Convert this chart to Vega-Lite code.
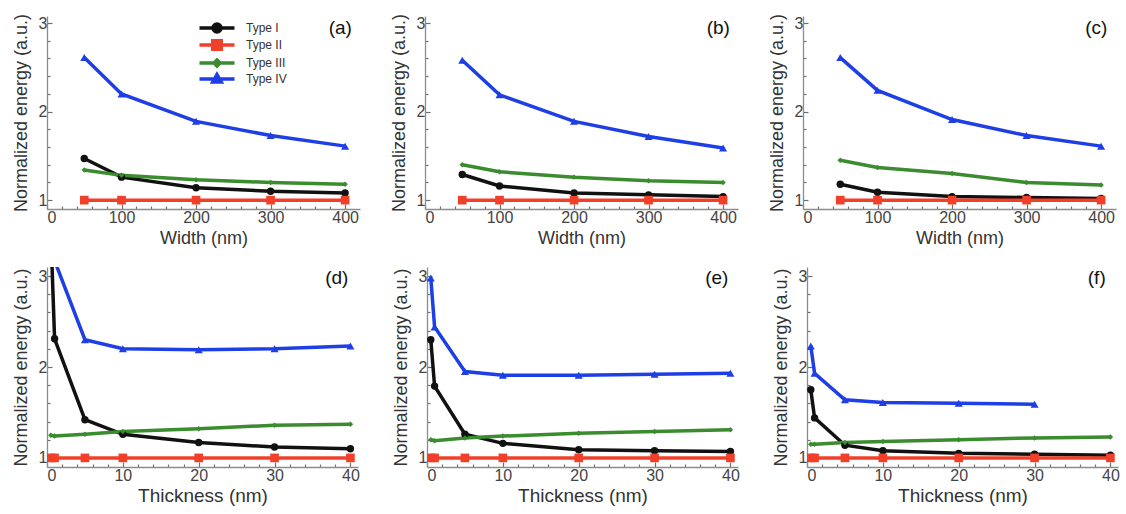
{
  "$schema": "https://vega.github.io/schema/vega-lite/v6.json",
  "background": "white",
  "padding": {"left": 12, "top": 13, "right": 2, "bottom": 2},
  "datasets": {
    "width": [
      {"p": "(a)", "t": "Type I", "x": 50, "y": 1.47}, {"p": "(a)", "t": "Type I", "x": 100, "y": 1.26}, {"p": "(a)", "t": "Type I", "x": 200, "y": 1.14}, {"p": "(a)", "t": "Type I", "x": 300, "y": 1.10}, {"p": "(a)", "t": "Type I", "x": 400, "y": 1.08},
      {"p": "(a)", "t": "Type II", "x": 50, "y": 1.0}, {"p": "(a)", "t": "Type II", "x": 100, "y": 1.0}, {"p": "(a)", "t": "Type II", "x": 200, "y": 1.0}, {"p": "(a)", "t": "Type II", "x": 300, "y": 1.0}, {"p": "(a)", "t": "Type II", "x": 400, "y": 1.0},
      {"p": "(a)", "t": "Type III", "x": 50, "y": 1.34}, {"p": "(a)", "t": "Type III", "x": 100, "y": 1.28}, {"p": "(a)", "t": "Type III", "x": 200, "y": 1.23}, {"p": "(a)", "t": "Type III", "x": 300, "y": 1.20}, {"p": "(a)", "t": "Type III", "x": 400, "y": 1.18},
      {"p": "(a)", "t": "Type IV", "x": 50, "y": 2.61}, {"p": "(a)", "t": "Type IV", "x": 100, "y": 2.20}, {"p": "(a)", "t": "Type IV", "x": 200, "y": 1.89}, {"p": "(a)", "t": "Type IV", "x": 300, "y": 1.73}, {"p": "(a)", "t": "Type IV", "x": 400, "y": 1.61},
      {"p": "(b)", "t": "Type I", "x": 50, "y": 1.29}, {"p": "(b)", "t": "Type I", "x": 100, "y": 1.16}, {"p": "(b)", "t": "Type I", "x": 200, "y": 1.08}, {"p": "(b)", "t": "Type I", "x": 300, "y": 1.06}, {"p": "(b)", "t": "Type I", "x": 400, "y": 1.04},
      {"p": "(b)", "t": "Type II", "x": 50, "y": 1.0}, {"p": "(b)", "t": "Type II", "x": 100, "y": 1.0}, {"p": "(b)", "t": "Type II", "x": 200, "y": 1.0}, {"p": "(b)", "t": "Type II", "x": 300, "y": 1.0}, {"p": "(b)", "t": "Type II", "x": 400, "y": 1.0},
      {"p": "(b)", "t": "Type III", "x": 50, "y": 1.40}, {"p": "(b)", "t": "Type III", "x": 100, "y": 1.32}, {"p": "(b)", "t": "Type III", "x": 200, "y": 1.26}, {"p": "(b)", "t": "Type III", "x": 300, "y": 1.22}, {"p": "(b)", "t": "Type III", "x": 400, "y": 1.20},
      {"p": "(b)", "t": "Type IV", "x": 50, "y": 2.58}, {"p": "(b)", "t": "Type IV", "x": 100, "y": 2.19}, {"p": "(b)", "t": "Type IV", "x": 200, "y": 1.89}, {"p": "(b)", "t": "Type IV", "x": 300, "y": 1.72}, {"p": "(b)", "t": "Type IV", "x": 400, "y": 1.59},
      {"p": "(c)", "t": "Type I", "x": 50, "y": 1.18}, {"p": "(c)", "t": "Type I", "x": 100, "y": 1.09}, {"p": "(c)", "t": "Type I", "x": 200, "y": 1.04}, {"p": "(c)", "t": "Type I", "x": 300, "y": 1.03}, {"p": "(c)", "t": "Type I", "x": 400, "y": 1.02},
      {"p": "(c)", "t": "Type II", "x": 50, "y": 1.0}, {"p": "(c)", "t": "Type II", "x": 100, "y": 1.0}, {"p": "(c)", "t": "Type II", "x": 200, "y": 1.0}, {"p": "(c)", "t": "Type II", "x": 300, "y": 1.0}, {"p": "(c)", "t": "Type II", "x": 400, "y": 1.0},
      {"p": "(c)", "t": "Type III", "x": 50, "y": 1.45}, {"p": "(c)", "t": "Type III", "x": 100, "y": 1.37}, {"p": "(c)", "t": "Type III", "x": 200, "y": 1.30}, {"p": "(c)", "t": "Type III", "x": 300, "y": 1.20}, {"p": "(c)", "t": "Type III", "x": 400, "y": 1.17},
      {"p": "(c)", "t": "Type IV", "x": 50, "y": 2.61}, {"p": "(c)", "t": "Type IV", "x": 100, "y": 2.24}, {"p": "(c)", "t": "Type IV", "x": 200, "y": 1.91}, {"p": "(c)", "t": "Type IV", "x": 300, "y": 1.73}, {"p": "(c)", "t": "Type IV", "x": 400, "y": 1.61}
    ],
    "thick": [
      {"p": "(d)", "t": "Type I", "x": 0.5, "y": 3.5}, {"p": "(d)", "t": "Type I", "x": 1, "y": 2.31}, {"p": "(d)", "t": "Type I", "x": 5, "y": 1.42}, {"p": "(d)", "t": "Type I", "x": 10, "y": 1.26}, {"p": "(d)", "t": "Type I", "x": 20, "y": 1.17}, {"p": "(d)", "t": "Type I", "x": 30, "y": 1.12}, {"p": "(d)", "t": "Type I", "x": 40, "y": 1.10},
      {"p": "(d)", "t": "Type II", "x": 0.5, "y": 1.0}, {"p": "(d)", "t": "Type II", "x": 1, "y": 1.0}, {"p": "(d)", "t": "Type II", "x": 5, "y": 1.0}, {"p": "(d)", "t": "Type II", "x": 10, "y": 1.0}, {"p": "(d)", "t": "Type II", "x": 20, "y": 1.0}, {"p": "(d)", "t": "Type II", "x": 30, "y": 1.0}, {"p": "(d)", "t": "Type II", "x": 40, "y": 1.0},
      {"p": "(d)", "t": "Type III", "x": 0.5, "y": 1.25}, {"p": "(d)", "t": "Type III", "x": 1, "y": 1.24}, {"p": "(d)", "t": "Type III", "x": 5, "y": 1.26}, {"p": "(d)", "t": "Type III", "x": 10, "y": 1.29}, {"p": "(d)", "t": "Type III", "x": 20, "y": 1.32}, {"p": "(d)", "t": "Type III", "x": 30, "y": 1.36}, {"p": "(d)", "t": "Type III", "x": 40, "y": 1.37},
      {"p": "(d)", "t": "Type IV", "x": 0.5, "y": 3.6}, {"p": "(d)", "t": "Type IV", "x": 1, "y": 3.17}, {"p": "(d)", "t": "Type IV", "x": 5, "y": 2.30}, {"p": "(d)", "t": "Type IV", "x": 10, "y": 2.20}, {"p": "(d)", "t": "Type IV", "x": 20, "y": 2.19}, {"p": "(d)", "t": "Type IV", "x": 30, "y": 2.20}, {"p": "(d)", "t": "Type IV", "x": 40, "y": 2.23},
      {"p": "(e)", "t": "Type I", "x": 0.5, "y": 2.30}, {"p": "(e)", "t": "Type I", "x": 1, "y": 1.79}, {"p": "(e)", "t": "Type I", "x": 5, "y": 1.26}, {"p": "(e)", "t": "Type I", "x": 10, "y": 1.16}, {"p": "(e)", "t": "Type I", "x": 20, "y": 1.09}, {"p": "(e)", "t": "Type I", "x": 30, "y": 1.08}, {"p": "(e)", "t": "Type I", "x": 40, "y": 1.07},
      {"p": "(e)", "t": "Type II", "x": 0.5, "y": 1.0}, {"p": "(e)", "t": "Type II", "x": 1, "y": 1.0}, {"p": "(e)", "t": "Type II", "x": 5, "y": 1.0}, {"p": "(e)", "t": "Type II", "x": 10, "y": 1.0}, {"p": "(e)", "t": "Type II", "x": 20, "y": 1.0}, {"p": "(e)", "t": "Type II", "x": 30, "y": 1.0}, {"p": "(e)", "t": "Type II", "x": 40, "y": 1.0},
      {"p": "(e)", "t": "Type III", "x": 0.5, "y": 1.20}, {"p": "(e)", "t": "Type III", "x": 1, "y": 1.19}, {"p": "(e)", "t": "Type III", "x": 5, "y": 1.22}, {"p": "(e)", "t": "Type III", "x": 10, "y": 1.24}, {"p": "(e)", "t": "Type III", "x": 20, "y": 1.27}, {"p": "(e)", "t": "Type III", "x": 30, "y": 1.29}, {"p": "(e)", "t": "Type III", "x": 40, "y": 1.31},
      {"p": "(e)", "t": "Type IV", "x": 0.5, "y": 2.98}, {"p": "(e)", "t": "Type IV", "x": 1, "y": 2.44}, {"p": "(e)", "t": "Type IV", "x": 5, "y": 1.95}, {"p": "(e)", "t": "Type IV", "x": 10, "y": 1.91}, {"p": "(e)", "t": "Type IV", "x": 20, "y": 1.91}, {"p": "(e)", "t": "Type IV", "x": 30, "y": 1.92}, {"p": "(e)", "t": "Type IV", "x": 40, "y": 1.93},
      {"p": "(f)", "t": "Type I", "x": 0.5, "y": 1.75}, {"p": "(f)", "t": "Type I", "x": 1, "y": 1.44}, {"p": "(f)", "t": "Type I", "x": 5, "y": 1.14}, {"p": "(f)", "t": "Type I", "x": 10, "y": 1.08}, {"p": "(f)", "t": "Type I", "x": 20, "y": 1.05}, {"p": "(f)", "t": "Type I", "x": 30, "y": 1.04}, {"p": "(f)", "t": "Type I", "x": 40, "y": 1.03},
      {"p": "(f)", "t": "Type II", "x": 0.5, "y": 1.0}, {"p": "(f)", "t": "Type II", "x": 1, "y": 1.0}, {"p": "(f)", "t": "Type II", "x": 5, "y": 1.0}, {"p": "(f)", "t": "Type II", "x": 10, "y": 1.0}, {"p": "(f)", "t": "Type II", "x": 20, "y": 1.0}, {"p": "(f)", "t": "Type II", "x": 30, "y": 1.0}, {"p": "(f)", "t": "Type II", "x": 40, "y": 1.0},
      {"p": "(f)", "t": "Type III", "x": 0.5, "y": 1.15}, {"p": "(f)", "t": "Type III", "x": 1, "y": 1.15}, {"p": "(f)", "t": "Type III", "x": 5, "y": 1.17}, {"p": "(f)", "t": "Type III", "x": 10, "y": 1.18}, {"p": "(f)", "t": "Type III", "x": 20, "y": 1.20}, {"p": "(f)", "t": "Type III", "x": 30, "y": 1.22}, {"p": "(f)", "t": "Type III", "x": 40, "y": 1.23},
      {"p": "(f)", "t": "Type IV", "x": 0.5, "y": 2.23}, {"p": "(f)", "t": "Type IV", "x": 1, "y": 1.93}, {"p": "(f)", "t": "Type IV", "x": 5, "y": 1.64}, {"p": "(f)", "t": "Type IV", "x": 10, "y": 1.61}, {"p": "(f)", "t": "Type IV", "x": 20, "y": 1.60}, {"p": "(f)", "t": "Type IV", "x": 30, "y": 1.59}
    ]
  },
  "spacing": 20,
  "vconcat": [
    {
      "data": {"name": "width"},
      "facet": {"field": "p", "type": "nominal", "header": {"labels": false, "title": null, "labelFontSize": 0, "labelPadding": 0}},
      "columns": 3,
      "spacing": 30,
      "resolve": {"axis": {"x": "independent", "y": "independent"}},
      "spec": {
        "width": 313,
        "height": 193,
        "encoding": {
          "x": {"field": "x", "type": "quantitative", "scale": {"domain": [0, 420], "nice": false, "zero": false},
            "axis": {"title": "Width (nm)", "values": [0, 20, 40, 60, 80, 100, 120, 140, 160, 180, 200, 220, 240, 260, 280, 300, 320, 340, 360, 380, 400],
              "labelExpr": "datum.value % 100 === 0 ? datum.label : ''",
              "tickSize": {"condition": {"test": "datum.value % 100 === 0", "value": -5}, "value": -3},
              "labelPadding": 5, "titlePadding": 4}},
          "y": {"field": "y", "type": "quantitative", "scale": {"domain": [0.9, 3.08], "nice": false, "zero": false},
            "axis": {"title": "Normalized energy (a.u.)", "values": [1, 1.2, 1.4, 1.6, 1.8, 2, 2.2, 2.4, 2.6, 2.8, 3],
              "labelExpr": "datum.value % 1 === 0 ? format(datum.value, 'd') : ''",
              "tickSize": {"condition": {"test": "datum.value % 1 === 0", "value": -5}, "value": -3},
              "labelPadding": 5, "titlePadding": 8}}
        },
        "layer": [
          {
            "mark": {"type": "line", "clip": true},
            "encoding": {
              "color": {"field": "t", "type": "nominal", "scale": {"domain": ["Type I", "Type II", "Type III", "Type IV"], "range": ["#111111", "#f0402a", "#3b8b2f", "#1e3ee6"]},
                "legend": {"orient": "none", "legendX": 152, "legendY": 6, "title": null, "symbolSize": 64, "symbolStrokeWidth": 3, "labelFontSize": 12, "labelFont": "Liberation Sans", "labelColor": "#333", "labelOffset": 23, "symbolOffset": 12, "rowPadding": -11,
                  "encoding": {"symbols": {
                    "shape": {"condition": [
                      {"test": "datum.value === 'Type I'", "value": "M-4.375,0H4.375M1,0A1,1,0,1,1,-1,0A1,1,0,1,1,1,0Z"},
                      {"test": "datum.value === 'Type II'", "value": "M-4.375,0H4.375M-1.06,-1.06H1.06V1.06H-1.06Z"},
                      {"test": "datum.value === 'Type III'", "value": "M-4.375,0H4.375M0,-0.75L0.75,0L0,0.75L-0.75,0Z"}
                    ], "value": "M-4.375,0H4.375M0,-1.12L1.06,0.75L-1.06,0.75Z"},
                    "fill": {"condition": [
                      {"test": "datum.value === 'Type I'", "value": "#111111"},
                      {"test": "datum.value === 'Type II'", "value": "#f0402a"},
                      {"test": "datum.value === 'Type III'", "value": "#3b8b2f"}
                    ], "value": "#1e3ee6"},
                    "stroke": {"condition": [
                      {"test": "datum.value === 'Type I'", "value": "#111111"},
                      {"test": "datum.value === 'Type II'", "value": "#f0402a"},
                      {"test": "datum.value === 'Type III'", "value": "#3b8b2f"}
                    ], "value": "#1e3ee6"},
                    "strokeWidth": {"value": 3},
                    "opacity": {"value": 1}
                  }}}},
              "strokeWidth": {"field": "t", "type": "ordinal", "scale": {"domain": ["Type I", "Type II", "Type III", "Type IV"], "range": [3.5, 3.5, 3, 4]}, "legend": null}
            }
          },
          {"transform": [{"filter": "datum.t === 'Type I'"}], "mark": {"type": "point", "shape": "circle", "size": 55, "filled": true, "opacity": 1, "clip": true, "color": "#111111"}},
          {"transform": [{"filter": "datum.t === 'Type II'"}], "mark": {"type": "point", "shape": "square", "size": 75, "filled": true, "opacity": 1, "clip": true, "color": "#f0402a"}},
          {"transform": [{"filter": "datum.t === 'Type III'"}], "mark": {"type": "point", "shape": "diamond", "size": 30, "filled": true, "opacity": 1, "clip": true, "color": "#3b8b2f"}},
          {"transform": [{"filter": "datum.t === 'Type IV'"}], "mark": {"type": "point", "shape": "triangle-up", "size": 65, "filled": true, "opacity": 1, "clip": true, "color": "#1e3ee6"}},
          {
            "transform": [{"filter": "datum.t === 'Type II' && datum.x === 400"}],
            "mark": {"type": "text", "font": "Liberation Sans", "fontSize": 19, "fill": "#111111", "align": "center", "baseline": "middle"},
            "encoding": {
              "x": {"datum": 393.5},
              "y": {"datum": 2.95},
              "text": {"field": "p"}
            }
          }
        ]
      }
    },
    {
      "data": {"name": "thick"},
      "facet": {"field": "p", "type": "nominal", "header": {"labels": false, "title": null, "labelFontSize": 0, "labelPadding": 0}},
      "columns": 3,
      "spacing": 32,
      "resolve": {"axis": {"x": "independent", "y": "independent"}},
      "spec": {
        "width": 311,
        "height": 200,
        "encoding": {
          "x": {"field": "x", "type": "quantitative", "scale": {"domain": [0, 41], "nice": false, "zero": false},
            "axis": {"title": "Thickness (nm)", "titleFontSize": 19, "values": [0, 2, 4, 6, 8, 10, 12, 14, 16, 18, 20, 22, 24, 26, 28, 30, 32, 34, 36, 38, 40],
              "labelExpr": "datum.value % 10 === 0 ? datum.label : ''",
              "tickSize": {"condition": {"test": "datum.value % 10 === 0", "value": -5}, "value": -3},
              "labelPadding": 5, "titlePadding": 3}},
          "y": {"field": "y", "type": "quantitative", "scale": {"domain": [0.9, 3.1], "nice": false, "zero": false},
            "axis": {"title": "Normalized energy (a.u.)", "values": [1, 1.2, 1.4, 1.6, 1.8, 2, 2.2, 2.4, 2.6, 2.8, 3],
              "labelExpr": "datum.value % 1 === 0 ? format(datum.value, 'd') : ''",
              "tickSize": {"condition": {"test": "datum.value % 1 === 0", "value": -5}, "value": -3},
              "labelPadding": 5, "titlePadding": 8}}
        },
        "layer": [
          {
            "mark": {"type": "line", "clip": true},
            "encoding": {
              "color": {"field": "t", "type": "nominal"},
              "strokeWidth": {"field": "t", "type": "ordinal", "scale": {"domain": ["Type I", "Type II", "Type III", "Type IV"], "range": [3.5, 3.5, 3, 4]}, "legend": null}
            }
          },
          {"transform": [{"filter": "datum.t === 'Type I'"}], "mark": {"type": "point", "shape": "circle", "size": 55, "filled": true, "opacity": 1, "clip": true, "color": "#111111"}},
          {"transform": [{"filter": "datum.t === 'Type II'"}], "mark": {"type": "point", "shape": "square", "size": 75, "filled": true, "opacity": 1, "clip": true, "color": "#f0402a"}},
          {"transform": [{"filter": "datum.t === 'Type III'"}], "mark": {"type": "point", "shape": "diamond", "size": 30, "filled": true, "opacity": 1, "clip": true, "color": "#3b8b2f"}},
          {"transform": [{"filter": "datum.t === 'Type IV'"}], "mark": {"type": "point", "shape": "triangle-up", "size": 65, "filled": true, "opacity": 1, "clip": true, "color": "#1e3ee6"}},
          {
            "transform": [{"filter": "datum.t === 'Type II' && datum.x === 40"}],
            "mark": {"type": "text", "font": "Liberation Sans", "fontSize": 19, "fill": "#111111", "align": "center", "baseline": "middle"},
            "encoding": {
              "x": {"datum": 38.2},
              "y": {"datum": 2.98},
              "text": {"field": "p"}
            }
          }
        ]
      }
    }
  ],
  "config": {
    "view": {"stroke": null},
    "header": {"labels": false, "title": null, "labelFontSize": 0, "labelPadding": 0, "titlePadding": 0},
    "axis": {
      "grid": false,
      "domainColor": "#8c8c8c",
      "domainWidth": 1.3,
      "tickColor": "#6e6e6e",
      "tickWidth": 1.2,
      "labelFont": "Liberation Sans",
      "labelFontSize": 16,
      "labelColor": "#444444",
      "titleFont": "Liberation Sans",
      "titleFontSize": 18,
      "titleFontWeight": "normal",
      "titleColor": "#333333"
    }
  }
}
